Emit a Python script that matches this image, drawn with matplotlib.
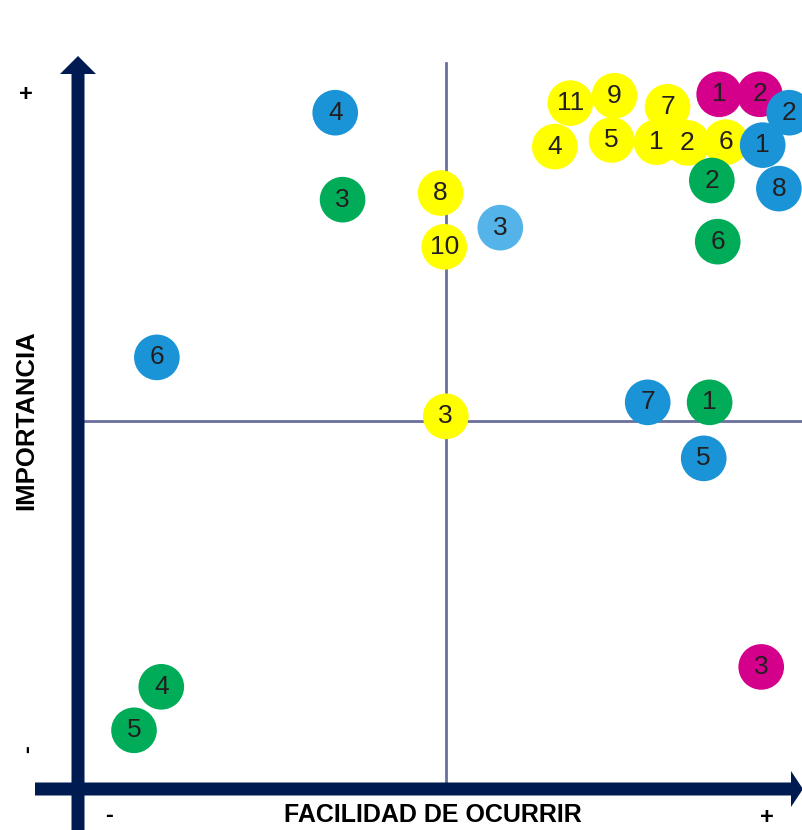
import matplotlib.pyplot as plt
from matplotlib.patches import FancyArrow

# --- data: (facilidad de ocurrir, importancia) on a 0-10 scale, centre = 5 ---
yellow_lbl = ["11", "9", "7", "4", "5", "1", "2", "6", "8", "10", "3"]
yellow_x = [6.68, 7.28, 8.00, 6.47, 7.24, 7.85, 8.27, 8.79, 4.92, 4.97, 4.99]
yellow_y = [9.32, 9.42, 9.27, 8.73, 8.82, 8.79, 8.78, 8.79, 8.10, 7.37, 5.07]

magenta_lbl = ["1", "2", "3"]
magenta_x = [8.70, 9.25, 9.27]
magenta_y = [9.44, 9.44, 1.67]

blue_lbl = ["4", "6", "7", "5", "8", "2", "1"]
blue_x = [3.49, 1.07, 7.73, 8.49, 9.51, 9.65, 9.29]
blue_y = [9.19, 5.87, 5.26, 4.50, 8.16, 9.19, 8.75]

lightblue_lbl = ["3"]
lightblue_x = [5.73]
lightblue_y = [7.63]

green_lbl = ["2", "6", "3", "1", "4", "5"]
green_x = [8.60, 8.68, 3.59, 8.57, 1.13, 0.76]
green_y = [8.27, 7.44, 8.01, 5.26, 1.40, 0.81]

groups = [
    (yellow_lbl, yellow_x, yellow_y, "#ffff00"),
    (magenta_lbl, magenta_x, magenta_y, "#d4008c"),
    (blue_lbl, blue_x, blue_y, "#1a94d6"),
    (lightblue_lbl, lightblue_x, lightblue_y, "#54b3e8"),
    (green_lbl, green_x, green_y, "#00ac58"),
]

# pixel -> score conversion (figure is 803x830 px)
K = 73.7
X0, Y0 = 78, 790


def sx(px):
    return (px - X0) / K


def sy(py):
    return (Y0 - py) / K


navy = "#001a52"
grid_c = "#6b6f9c"

fig = plt.figure(figsize=(8.03, 8.30), dpi=100)
ax = fig.add_axes([0, 0, 1, 1])
ax.set_xlim(sx(0), sx(803))
ax.set_ylim(sy(830), sy(0))
ax.axis("off")

# quadrant lines
ax.plot([5, 5], [sy(783), sy(63)], color=grid_c, lw=2, zorder=1)
ax.plot([sx(84), sx(803)], [5, 5], color=grid_c, lw=2, zorder=1)

# axis arrows
ax.add_patch(FancyArrow(sx(78), sy(830), 0, sy(56) - sy(830), width=13 / K,
                        head_width=36 / K, head_length=18 / K,
                        length_includes_head=True, color=navy, lw=0, zorder=2))
ax.add_patch(FancyArrow(sx(35), sy(789), sx(803) - sx(35), 0, width=13 / K,
                        head_width=36 / K, head_length=12 / K,
                        length_includes_head=True, color=navy, lw=0, zorder=2))

# circles with numbers
z = 3
for lbl, xs, ys, col in groups:
    for t, x, y in zip(lbl, xs, ys):
        ax.scatter([x], [y], s=1080, color=col, edgecolors="none", zorder=z)
        ax.text(x, y, t, ha="center", va="center", fontsize=19,
                color="#231f20", family="Liberation Sans", zorder=z + 0.5)
        z += 1

# axis labels
ax.text(sx(433), sy(815), "FACILIDAD DE OCURRIR", ha="center", va="center",
        fontsize=18, fontweight="bold", family="Liberation Sans", color="black")
ax.text(sx(26), sy(420), "IMPORTANCIA", ha="center", va="center",
        rotation=90, fontsize=18.5, fontweight="bold", family="Liberation Sans",
        color="black")
ax.text(sx(26), sy(95), "+", ha="center", va="center", fontsize=17,
        fontweight="bold", family="Liberation Sans")
ax.text(sx(767), sy(817), "+", ha="center", va="center", fontsize=17,
        fontweight="bold", family="Liberation Sans")
ax.text(sx(109), sy(815), "-", ha="center", va="center", fontsize=17,
        fontweight="bold", family="Liberation Sans")
ax.text(sx(28), sy(749), "-", ha="center", va="center", rotation=90,
        fontsize=17, fontweight="bold", family="Liberation Sans")

fig.savefig("out.png", dpi=100)
